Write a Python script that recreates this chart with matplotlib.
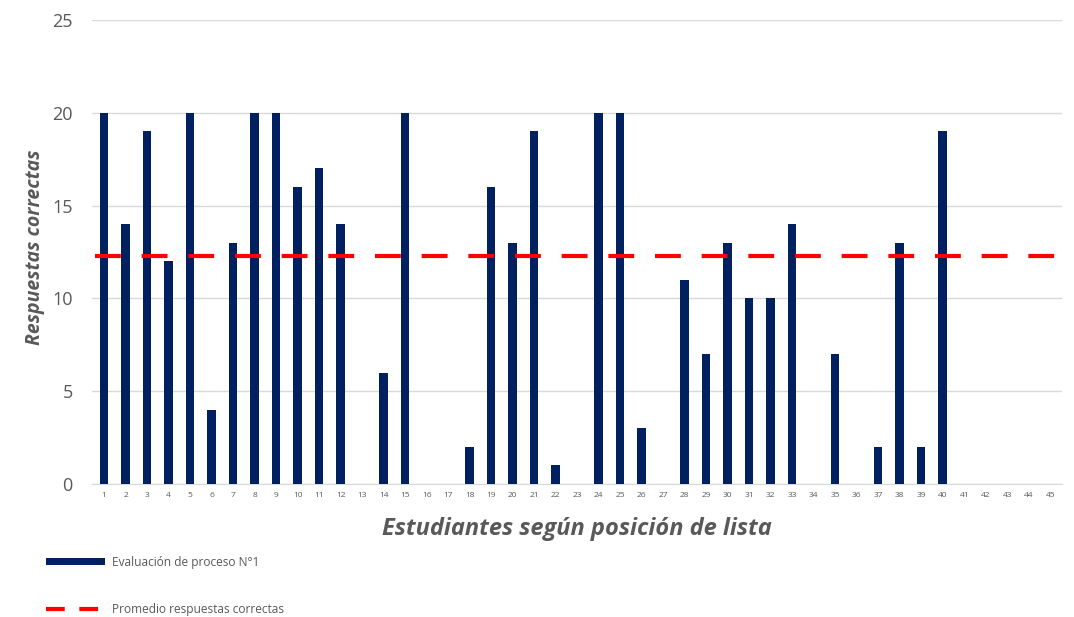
import matplotlib.pyplot as plt
from matplotlib.lines import Line2D
from matplotlib.patches import Patch

# respuestas correctas por estudiante (posición en la lista 1..45)
estudiantes = list(range(1, 46))
respuestas = [20, 14, 19, 12, 20, 4, 13, 20, 20, 16,
              17, 14, 0, 6, 20, 0, 0, 2, 16, 13,
              19, 1, 0, 20, 20, 3, 0, 11, 7, 13,
              10, 10, 14, 0, 7, 0, 2, 13, 2, 19,
              0, 0, 0, 0, 0]
promedio = 12.3

azul = '#002060'
rojo = '#ff0000'
gris = '#595959'

plt.rcParams['font.family'] = ['Open Sans', 'DejaVu Sans']

fig = plt.figure(figsize=(10.74, 6.17), dpi=100)
ax = fig.add_axes([0.0857, 0.2156, 0.9033, 0.752])

ax.bar(estudiantes, respuestas, width=0.4, color=azul, zorder=3)
ax.plot([0.6, 45.4], [promedio, promedio], color=rojo, lw=3,
        dashes=(6.2, 5), zorder=4)

ax.set_xlim(0.44, 45.56)
ax.set_ylim(0, 25)
ax.set_yticks([0, 5, 10, 15, 20, 25])
ax.set_xticks(estudiantes)
ax.tick_params(axis='y', length=0, pad=14, labelsize=13, labelcolor=gris)
ax.tick_params(axis='x', length=0, pad=6, labelsize=6, labelcolor=gris)
ax.grid(axis='y', color='#d9d9d9', lw=1, zorder=0)
for s in ['top', 'right', 'left']:
    ax.spines[s].set_visible(False)
ax.spines['bottom'].set_color('#d9d9d9')

ax.set_xlabel('Estudiantes según posición de lista', fontsize=17,
              fontweight='bold', style='italic', color=gris, labelpad=13)
ax.set_ylabel('Respuestas correctas', fontsize=14, fontweight='bold',
              style='italic', color=gris)
ax.yaxis.set_label_coords(-0.0485, 0.51)

handles = [Patch(facecolor=azul, edgecolor='none'),
           Line2D([], [], color=rojo, lw=3, dashes=(4.5, 3.5))]
labels = ['Evaluación de proceso N°1', 'Promedio respuestas correctas']
fig.legend(handles, labels, loc='upper left', bbox_to_anchor=(0.033, 0.117),
           bbox_transform=fig.transFigure, frameon=False, fontsize=8.6,
           labelcolor=gris, handlelength=4.9, handleheight=0.6,
           labelspacing=2.85, handletextpad=0.6)

fig.savefig('out.png', dpi=100, facecolor='white')
